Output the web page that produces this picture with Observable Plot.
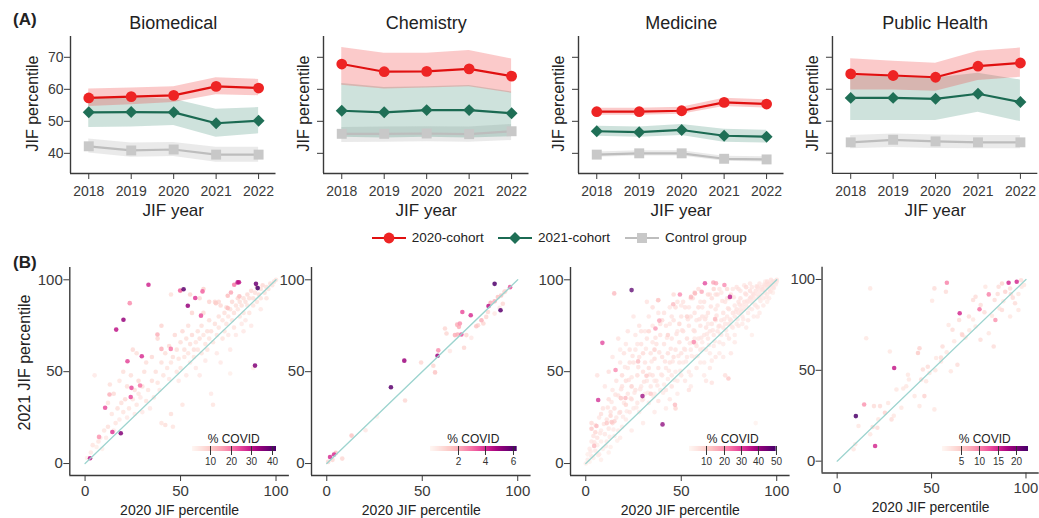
<!DOCTYPE html>
<html><head><meta charset="utf-8">
<script src="https://cdn.jsdelivr.net/npm/d3@7"></script>
<script src="https://cdn.jsdelivr.net/npm/@observablehq/plot@0.6"></script>
<style>
body{margin:0;background:#fff;}
#root{position:relative;width:1039px;height:518px;overflow:hidden;font-family:"Liberation Sans",Arial,sans-serif;color:#222;}
.lab{position:absolute;font-weight:bold;font-size:17px;line-height:20px;}
.leg{position:absolute;display:flex;align-items:center;font-size:13.5px;line-height:16px;color:#222;}
.leg span{margin-left:6px;}
.cov{position:absolute;font-size:12px;line-height:14px;transform:translate(-50%,-50%);white-space:nowrap;color:#222;}
</style></head><body><div id="root"></div>
<script>
// ---------------- DATA ----------------
const years = [2018, 2019, 2020, 2021, 2022];
const fields = ["Biomedical", "Chemistry", "Medicine", "Public Health"];
const cohorts = ["2020-cohort", "2021-cohort", "Control group"];
const yTicksA = [40, 50, 60, 70];

// rows: Biomedical, Chemistry, Medicine, Public Health
const mean2020 = [[57.3,57.7,58.1,60.9,60.4],[67.9,65.5,65.6,66.4,64.1],[53.0,53.0,53.3,55.9,55.4],[64.8,64.3,63.75,67.2,68.2]];
const lo2020   = [[54.6,55.2,55.9,58.3,58.0],[61.3,60.1,60.4,60.8,58.8],[51.9,51.9,52.2,54.6,54.1],[59.8,59.8,59.4,62.7,63.75]];
const hi2020   = [[60.1,60.4,60.8,63.6,63.1],[73.1,71.3,71.3,72.1,69.5],[54.1,54.1,54.4,57.2,56.7],[69.5,68.75,68.1,71.9,72.9]];
const mean2021 = [[52.8,52.9,52.8,49.4,50.2],[53.3,52.8,53.5,53.5,52.5],[46.9,46.6,47.3,45.5,45.2],[57.3,57.3,57.0,58.6,56.0]];
const lo2021   = [[48.1,48.2,48.7,45.0,46.1],[45.0,44.8,45.0,44.8,45.2],[45.3,45.0,45.6,43.5,43.2],[50.2,50.2,50.2,52.8,49.9]];
const hi2021   = [[57.4,57.4,56.9,53.8,54.3],[61.8,60.6,60.8,61.2,59.2],[48.5,48.2,49.0,47.5,47.2],[64.0,64.0,63.5,65.0,62.9]];
const meanCtl  = [[42.2,40.9,41.2,39.6,39.6],[46.1,46.1,46.2,46.0,46.9],[39.6,40.0,40.0,38.3,38.1],[43.4,44.2,43.7,43.4,43.4]];
const loCtl    = [[40.1,38.8,39.0,37.2,37.2],[43.4,43.5,43.6,43.5,44.0],[38.8,39.2,39.2,37.5,37.3],[41.4,41.8,41.5,41.4,41.4]];
const hiCtl    = [[44.5,43.2,43.4,41.9,41.9],[48.1,48.2,48.3,48.2,49.0],[40.4,40.8,40.8,39.1,38.9],[45.5,46.0,45.7,45.5,45.5]];

// panel B: [2020 JIF percentile, 2021 JIF percentile, % COVID]
const ticksB = [0, 50, 100];
const diag = [0, 100];
const covidDomain = [[1, 42], [0, 6.3], [0, 50], [0, 23.2]];
const covidTicks = [[10,20,30,40],[2,4,6],[10,20,30,40,50],[5,10,15,20]];

const bio = [
[33.2,97.3,28],[49.8,94.2,22],[51.6,94.9,40],[61.5,93.7,22],[57.7,90.1,26],[78.1,97.3,20],[79.9,98.6,30],[80.6,98.7,30],[89.5,97.8,38],[90.4,95.5,42],
[23.4,87.3,18],[53.8,85.9,34],[60.7,80.5,24],[20.1,78.3,34],[16.3,72.9,30],[37.9,70.2,14],[29.7,58.4,27],[22.2,55.7,25],[40,62.4,14],[44.9,62.4,20],
[89,53.3,36],[24.3,41.2,24],[28.8,42.5,20],[23.9,36.2,24],[10.5,30.4,24],[12.8,37.6,14],[14.3,17.2,26],[18.7,16.5,36],[7.3,14.5,17],[2.6,2.9,30],
[74.7,91.3,12],[76.4,93.1,15],[80.8,91,12],[68.5,87.3,10],[74.7,84.6,12],
[1,3,3],[3,6,4],[4,10,5],[5,48,4],[6,9,3],[7,12,5],[8,14,4],[9,8,3],[10,18,5],[11,14,4],[12,20,6],[12,33,5],[13,43,6],[14,27,5],[15,18,4],[15,38,7],
[16,22,5],[17,30,6],[18,24,4],[18,45,5],[19,33,6],[20,28,5],[20,50,6],[21,35,7],[22,25,4],[22,42,6],[23,30,5],[24,48,6],[25,35,5],[25,62,7],[26,27,4],
[26,40,6],[27,32,5],[27,60,6],[28,38,5],[28,45,7],[29,36,4],[30,42,6],[30,28,4],[31,50,6],[32,34,5],[32,55,6],[33,40,5],[34,30,4],[35,45,6],[35,58,7],
[36,36,5],[37,50,6],[38,44,5],[38,68,7],[39,40,4],[40,22,5],[40,55,6],[40,75,8],[41,48,5],[42,21,6],[42,60,6],[43,52,5],[44,46,4],[44,64,7],[45,27,6],
[45,55,5],[46,20,5],[46,58,6],[47,70,7],[48,50,5],[48,62,6],[49,57,5],[49,45,4],[50,66,6],[50,52,5],[51,32,5],[51,72,7],[52,58,5],[52,62,6],[53,48,4],
[53,68,6],[54,60,5],[54,75,6],[55,55,4],[55,65,6],[56,70,7],[56,82,8],[57,58,5],[57,62,6],[58,66,5],[58,52,4],[59,72,6],[59,62,5],[60,68,6],[60,48,4],
[61,75,6],[61,60,5],[62,70,5],[62,82,7],[63,65,5],[63,56,4],[64,72,6],[64,62,5],[65,68,5],[65,78,6],[66,38,4],[66,72,6],[67,32,5],[67,66,5],[68,76,6],
[68,88,7],[69,70,5],[69,60,4],[70,80,6],[70,74,5],[71,55,4],[71,86,7],[72,78,5],[72,68,5],[73,82,6],[73,72,5],[74,85,6],[74,76,5],[75,80,5],[75,70,4],
[76,84,6],[76,49,3],[77,78,5],[77,88,7],[78,82,6],[78,74,5],[79,86,6],[79,70,4],[80,84,5],[80,90,7],[81,80,5],[81,88,6],[82,86,6],[82,76,4],[83,90,6],
[83,82,5],[84,88,6],[84,78,4],[85,92,7],[85,86,5],[86,90,6],[86,82,5],[87,94,7],[87,75,4],[88,90,6],[88,86,5],[89,93,6],[90,88,5],[90,96,7],[91,92,6],
[92,95,6],[92,90,5],[93,97,7],[94,93,6],[95,96,6],[96,95,5],[97,98,6],[98,97,5],[99,99,6],[100,100,5],[88,52,3],[92,84,4],[95,90,5],[83,72,4],[76,62,4],
[70,88,7],[65,88,8],[60,90,7],[62,95,9],[55,92,8],[50,94,7],[45,92,6]
];

const chem = [
[87.9,97.8,6.2],[96,96,3.5],[93,93.3,1],[91,83.4,6],[84.7,85.7,4.5],[71,82.5,3.5],[75.4,80.7,4],[70.5,70.2,3.5],[58,58.7,5],[58.4,61.6,2.5],
[40.6,56,5],[33.6,41.5,6],[1.7,3.6,4],[3.8,4.9,4],[4.7,5.8,1.5],[0.7,0.9,1],[8.1,2.7,1],[13,15.2,1.5],[20.3,18.1,0.5],[26.3,25.6,0.3],
[41,34.3,1],[49.4,55,1],[56.7,49.6,1.5],[55.8,53.2,1],[61.9,73.5,1],[62.7,70.8,1],[64.5,61.2,0.5],[67.1,69.9,2],[68.3,75.6,2],[69.2,74.4,2],
[69.7,76.2,2.5],[68.5,70.2,2],[71.9,63,1],[73.1,69.9,1],[75.7,68.4,0.5],[78.3,74.7,1.5],[81,78,2],[82,76.2,1],[83.5,79.8,1],[84.4,82.5,1],
[85.8,87.5,2],[87.9,88.3,2],[89.6,90.6,1.5],[91.3,91.5,1.5],[92.2,87,1],[93.4,93.7,1],[87.9,81.6,0.5],[90.5,84.7,0.5],[79.2,75.3,1],[3,2,1]
];

const med = [
[24,94.4,48],[62.4,98.1,30],[66.8,98.5,18],[68.2,98.1,18],[72.6,97.2,22],[75.5,90.7,36],[49.3,92,22],[55.1,90.7,15],[57.2,92.6,15],[60.7,93.5,18],
[14.9,92.6,15],[37.9,88.9,12],[45.8,86.7,15],[38.5,77.8,18],[36.5,73.5,20],[8.7,65.7,30],[56.6,66.1,22],[15.6,50.9,22],[29.7,36.7,40],[6.5,34.6,33],
[40.2,21.3,42],[46.7,32,15],[20.8,35.7,15],[27.4,55.6,15],[31.8,47.8,12],[4.4,9.6,15],[3,18.9,12],[13.5,22.6,12],[5.6,20.4,15],[74.7,46.3,12],
[18.4,35.6,12],[67.7,78.7,15],
[0,0,3],[1,2,4],[2,1,2],[1,5,3],[3,4,5],[2,8,4],[4,3,3],[3,12,5],[5,7,4],[4,15,6],[6,10,3],[5,21,5],[7,5,4],[6,14,6],[8,12,3],[7,25,5],[8,18,4],[9,8,3],
[9,30,6],[10,16,5],[3,22,8],[5,17,9],[8,27,7],[6,48,6],[10,42,5],
[11,12,4],[11,24,6],[12,19,5],[12,35,7],[13,9,3],[13,28,6],[14,22,8],[14,40,5],[15,15,4],[15,30,7],[16,45,6],[16,25,5],[17,18,4],[17,37,6],[18,55,5],
[18,28,7],[19,20,4],[19,42,6],[20,33,5],[20,60,6],[12,50,7],[14,58,5],[17,68,6],[11,22,12],[15,23,10],[19,48,8],[13,26,9],
[21,24,4],[21,45,7],[22,38,6],[22,52,5],[23,28,5],[23,62,6],[24,35,7],[24,47,5],[25,30,4],[25,55,6],[26,40,6],[26,70,5],[27,33,5],[27,48,7],[28,58,6],
[28,28,4],[29,42,5],[29,65,6],[30,35,5],[30,50,7],[22,72,6],[25,80,5],[28,75,6],[30,60,8],[24,42,10],[21,32,9],
[31,38,4],[31,55,6],[32,45,5],[32,68,6],[33,33,4],[33,52,7],[34,60,6],[34,42,5],[35,48,6],[35,75,5],[36,38,4],[36,57,7],[37,65,6],[37,45,5],[38,52,6],
[38,82,5],[39,40,4],[39,70,6],[40,58,7],[40,48,5],[32,88,6],[35,85,7],[38,89,8],[36,62,10],[33,72,9],[40,78,8],[34,38,12],[38,34,6],
[41,43,4],[41,65,6],[42,52,5],[42,75,6],[43,46,4],[43,60,7],[44,55,6],[44,85,5],[45,48,5],[45,68,6],[46,58,7],[46,78,6],[47,50,4],[47,62,6],[48,72,5],
[48,88,6],[49,55,5],[49,66,7],[50,60,6],[50,80,6],[42,40,5],[45,42,6],[48,45,4],[44,35,5],[47,30,9],[50,48,5],[46,92,8],[43,70,10],[49,76,9],
[51,55,4],[51,72,6],[52,62,5],[52,85,6],[53,58,5],[53,68,7],[54,75,6],[54,50,4],[55,62,5],[55,80,6],[56,66,6],[56,90,7],[57,58,4],[57,72,6],[58,78,5],
[58,64,6],[59,68,5],[59,85,7],[60,62,5],[60,75,6],[52,45,5],[55,48,4],[58,52,5],[60,55,4],[54,40,6],[57,93,9],[53,80,10],[59,95,7],
[61,66,4],[61,80,6],[62,70,5],[62,88,6],[63,62,4],[63,74,6],[64,68,5],[64,82,6],[65,72,5],[65,60,4],[66,76,6],[66,90,7],[67,70,5],[67,64,4],[68,78,6],
[68,84,5],[69,72,5],[69,92,7],[70,75,6],[70,66,4],[62,55,4],[65,52,5],[68,58,5],[70,60,4],[64,92,8],[67,95,9],[63,45,5],[66,44,6],
[71,78,5],[71,70,4],[72,82,6],[72,74,5],[73,76,5],[73,88,6],[74,80,5],[74,70,4],[75,84,6],[75,76,5],[76,78,5],[76,92,7],[77,82,6],[77,74,4],[78,86,5],
[78,80,5],[79,84,6],[79,76,4],[80,88,6],[80,82,5],[72,65,4],[75,68,5],[78,70,4],[80,75,5],[76,60,5],[74,95,8],[79,96,6],[73,48,7],
[81,84,5],[81,90,6],[82,86,5],[82,80,4],[83,88,6],[83,84,5],[84,92,6],[84,86,5],[85,88,5],[85,82,4],[86,90,6],[86,94,7],[87,88,5],[87,84,4],[88,92,6],
[88,90,5],[89,94,6],[89,86,4],[90,92,5],[90,96,6],[82,76,4],[85,78,5],[88,80,4],[90,85,5],[87,70,3],[84,96,8],[89,22,2],
[91,94,5],[91,90,4],[92,96,6],[92,92,5],[93,95,5],[93,90,4],[94,97,6],[94,93,5],[95,96,5],[95,92,4],[96,98,6],[96,95,5],[97,97,5],[97,94,4],[98,99,6],
[98,96,5],[99,99,5],[99,98,4],[100,100,6],[100,99,5],[93,86,4],[96,90,4],[98,93,3],[91,82,4],[95,99,7],[97,100,6],
[2.5,6.5,4],[4.5,11.5,5],[6.5,4.5,3],[7.5,16.5,5],[9.5,21.5,6],[10.5,9.5,4],[11.5,30.5,6],[12.5,14.5,4],[13.5,33.5,5],[14.5,18.5,4],[15.5,37.5,6],
[16.5,12.5,3],[17.5,27.5,5],[18.5,40.5,6],[19.5,25.5,4],[20.5,52.5,5],[21.5,28.5,4],[22.5,45.5,6],[23.5,35.5,5],[24.5,58.5,6],[25.5,38.5,5],[26.5,30.5,4],
[27.5,52.5,6],[28.5,40.5,5],[29.5,34.5,4],[30.5,44.5,6],[31.5,62.5,5],[32.5,38.5,4],[33.5,48.5,6],[34.5,55.5,5],[35.5,36.5,4],[36.5,68.5,6],[37.5,42.5,5],
[38.5,60.5,6],[39.5,48.5,5],[40.5,38.5,4],[41.5,55.5,6],[42.5,68.5,5],[43.5,50.5,5],[44.5,62.5,6],[45.5,55.5,5],[46.5,45.5,4],[47.5,70.5,6],[48.5,58.5,5],
[49.5,50.5,4],[50.5,72.5,6],[51.5,62.5,5],[52.5,55.5,4],[53.5,78.5,6],[54.5,65.5,5],[55.5,58.5,4],[56.5,72.5,6],[57.5,65.5,5],[58.5,58.5,4],[59.5,78.5,6],
[60.5,68.5,5],[61.5,62.5,4],[62.5,78.5,6],[63.5,70.5,5],[64.5,64.5,4],[65.5,85.5,6],[66.5,72.5,5],[67.5,66.5,4],[68.5,80.5,6],[69.5,74.5,5],[70.5,70.5,4],
[71.5,88.5,6],[72.5,78.5,5],[73.5,72.5,4],[74.5,84.5,6],[75.5,78.5,5],[76.5,74.5,4],[77.5,90.5,6],[78.5,82.5,5],[79.5,78.5,4],[80.5,86.5,6],[81.5,82.5,5],
[82.5,78.5,4],[83.5,92.5,6],[84.5,88.5,5],[85.5,84.5,4],[86.5,90.5,6],[87.5,92.5,5],[88.5,86.5,4],[89.5,96.5,6],[90.5,90.5,5],[91.5,88.5,4],[92.5,94.5,6],
[93.5,97.5,5],[94.5,90.5,4],[95.5,97.5,6],[96.5,93.5,5],[97.5,98.5,4],[98.5,95.5,5],[99.5,97.5,4],
[26,62,5],[29,72,6],[33,80,5],[36,45,4],[41,82,6],[44,76,5],[47,85,7],[51,88,6],[54,85,5],[57,82,6],[61,85,5],[64,76,4],[68,92,6],[71,93,5],[74,90,6],
[77,95,5],[80,95,6],[83,97,5],[86,98,5],[91,98,5],[94,99,4],[21,65,5],[18,62,4],[23,55,6],[27,65,5],[31,72,5],[35,66,5],[39,76,6],[45,80,6],[50,86,5],
[55,90,6],[60,88,5],[65,92,6],[70,95,5],[62,48,4],[66,56,4],[72,58,4],[78,66,4],[84,74,4],[90,80,4],[95,88,3],[55,42,4],[48,38,4],[42,30,4],[36,28,4],
[30,22,4],[24,18,4],[18,14,4],[12,6,3],[8,2,3],[57,68,5],[63,80,5],[69,86,5],[75,90,5],[81,94,5],[87,96,5]
];

const pub = [
[9.9,24.8,23],[30.2,51.3,16],[20.1,8.4,15],[64.9,81.4,15],[58.1,98.2,10],[90.8,98.2,15],[95.1,98.7,15],[80.3,91.8,10],[75.4,83.6,11],[83.8,77.7,9],
[14.3,31.2,9],[17.5,95.1,2],[15.4,67.7,2],[51.5,95.1,3],[50.3,88.3,2],[57.6,93.2,3],[43.6,62.2,4],[42.8,59.5,5],[27.9,60.4,2],[64.6,77.7,3],
[66.3,69.5,4],[69.8,79.6,3],[72,88.7,3],[73.3,90.5,3],[78.5,96,2],[85.5,96,3],[87.3,97.8,4],[89,93.2,4],[91.6,95,3],[97.4,99.6,3],
[97.7,96,2],[94.2,86.9,3],[96,83.2,2],[91.6,79.6,2],[87.3,83.2,3],[83.4,88.7,3],[80.3,70.4,2],[82.9,63.1,3],[75.9,66.8,3],[73.3,74.1,2],
[61.1,72.3,3],[59,75,2],[55.8,63.1,3],[63.7,53.1,3],[60.2,49.5,2],[55,54.9,2],[52.4,56.8,2],[48.9,48.5,2],[45.4,50.4,3],[44.5,44.9,3],
[47.1,44,2],[46.2,35.8,4],[43.6,30.3,2],[51.5,28.5,2],[41,35.8,2],[36.6,41.2,2],[31.4,39.4,2],[34,29.4,2],[25.3,26.6,4],[22.7,30.3,3],
[19.5,30.3,3],[21.8,23,2],[18.8,18.8,3],[21.3,18.4,3],[17.5,14.8,2],[11.3,19.3,2],[9.6,9.3,2],[8.7,6.6,2],[28.8,23,3],[37.5,47.6,2],
[82,80,2],[86,84,2],[93,90,3],[96,92,2],[99,97,2],[88,88,2],[85,92,3],[78,82,3],[70,72,2],[68,68,2],[72,78,2],[58,60,2],[52,50,2],[48,52,3],
[38,45,2],[30,25,2],[27,32,2],[35,40,2],[55,57,3],[92,92,3],[76,86,3],[62,66,2],[66,70,2]
];

// ---------------- STYLE / LAYOUT ----------------
const FONT = '"Liberation Sans", Arial, sans-serif';
const lineColor = {"2020-cohort": "#e01010", "2021-cohort": "#1b6a52", "Control group": "#bdbdbd"};
const dotColor  = {"2020-cohort": "#ee2424", "2021-cohort": "#1f6f56", "Control group": "#c8c8c8"};
const bandColor = {"2020-cohort": "#f04040", "2021-cohort": "#1f7a5e", "Control group": "#b8b8b8"};
const bandOp    = {"2020-cohort": 0.28, "2021-cohort": 0.22, "Control group": 0.3};
const symbolOf  = {"2020-cohort": "circle", "2021-cohort": "diamond2", "Control group": "square"};
const radiusOf  = {"2020-cohort": 5.4, "2021-cohort": 5.4, "Control group": 5.6};
const AXIS = "#3a3a3a";
const LBL = {textAnchor: "middle", lineAnchor: "middle", fill: "#222"};

const root = document.getElementById("root");
function place(el, left, top) {
  const w = document.createElement("div");
  w.style.cssText = `position:absolute;left:${left}px;top:${top}px;`;
  w.appendChild(el);
  root.appendChild(w);
  return w;
}

// ---------- Panel A ----------
const axisXA = [69.5, 323.3, 577.7, 831.7];
const A_ML = 50, A_W = 205.5, A_MR = 2;
const xDomA = [2017.57, 2022.41], yDomA = [33.7, 76.5];
const meansA = [mean2020, mean2021, meanCtl], losA = [lo2020, lo2021, loCtl], hisA = [hi2020, hi2021, hiCtl];

fields.forEach((field, fi) => {
  const rows = [];
  cohorts.forEach((c, k) => years.forEach((yr, i) => rows.push({year: yr, cohort: c, mean: meansA[k][fi][i], lo: losA[k][fi][i], hi: hisA[k][fi][i]})));
  const order = ["Control group", "2021-cohort", "2020-cohort"];
  const marks = [];
  for (const c of order) marks.push(Plot.areaY(rows.filter(d => d.cohort === c), {x: "year", y1: "lo", y2: "hi", fill: bandColor[c], fillOpacity: bandOp[c]}));
  for (const c of order) {
    const r = rows.filter(d => d.cohort === c);
    marks.push(Plot.line(r, {x: "year", y: "mean", stroke: lineColor[c], strokeWidth: 2.2}));
    marks.push(Plot.dot(r, {x: "year", y: "mean", symbol: symbolOf[c], r: radiusOf[c], fill: dotColor[c]}));
  }
  marks.push(
    Plot.axisX({ticks: years, tickFormat: d => String(d), tickSize: 6, tickPadding: 7, label: null}),
    Plot.axisY({ticks: yTicksA, tickSize: 6, tickPadding: 1, label: null, tickFormat: fi === 0 ? (d => String(d)) : (() => "")}),
    Plot.ruleX([xDomA[0]], {stroke: AXIS, strokeWidth: 1.4}),
    Plot.ruleY([yDomA[0]], {stroke: AXIS, strokeWidth: 1.4}),
    Plot.text([field], {...LBL, frameAnchor: "top", dy: -13, fontSize: 18}),
    Plot.text(["JIF year"], {...LBL, frameAnchor: "bottom", dy: 37, fontSize: 17}),
    Plot.text(["JIF percentile"], {...LBL, frameAnchor: "left", dx: fi === 0 ? -38 : -20, dy: -1.5, rotate: -90, fontSize: 16})
  );
  const svg = Plot.plot({
    width: A_ML + A_W + A_MR, height: 222,
    marginLeft: A_ML, marginRight: A_MR, marginTop: 36, marginBottom: 49,
    x: {domain: xDomA}, y: {domain: yDomA},
    style: {fontFamily: FONT, fontSize: "14px", color: AXIS, background: "transparent", overflow: "visible"},
    marks
  });
  place(svg, axisXA[fi] - A_ML, 0);
});

// ---------- Legend ----------
const legX = [371.7, 498, 625];
cohorts.forEach((c, k) => {
  const d = document.createElement("div");
  d.className = "leg";
  d.style.left = legX[k] + "px";
  d.style.top = "230px";
  const sym = c === "2020-cohort" ? `<circle cx="17" cy="8" r="5.4" fill="${dotColor[c]}"/>`
    : c === "2021-cohort" ? `<path d="M17 2 L23 8 L17 14 L11 8 Z" fill="${dotColor[c]}"/>`
    : `<rect x="12" y="3" width="10" height="10" fill="${dotColor[c]}"/>`;
  d.innerHTML = `<svg width="34" height="16"><line x1="0" y1="8" x2="34" y2="8" stroke="${lineColor[c]}" stroke-width="2.2"/>${sym}</svg><span>${c}</span>`;
  root.appendChild(d);
});

// ---------- Panel B ----------
const axisXB = [69.3, 311, 570, 822.3];
const B_W = 219.6;
const xDomB = [-8, 107], yDomB = [-6.5, 106.7];
const dataB = [bio, chem, med, pub];
const barB = [[191.7, 84], [430, 86.7], [689.3, 86.7], [941.7, 86]];

dataB.forEach((arr, pi) => {
  const pts = arr.map(([x, y, c]) => ({x, y, c}));
  const ml = pi === 0 ? 69.3 : 40;
  const marks = [
    Plot.dot(pts, {x: "x", y: "y", fill: "c", r: 2.3, fillOpacity: pi === 2 ? 0.75 : 0.85, sort: "c"}),
    Plot.line(diag, {x: d => d, y: d => d, stroke: "#9dd4cf", strokeWidth: 1.3}),
    Plot.axisX({ticks: ticksB, tickSize: 6, tickPadding: 4, label: null}),
    Plot.axisY({ticks: ticksB, tickSize: 6, tickPadding: 1, label: null}),
    Plot.ruleX([xDomB[0]], {stroke: AXIS, strokeWidth: 1.4}),
    Plot.ruleY([yDomB[0]], {stroke: AXIS, strokeWidth: 1.4}),
    Plot.text(["2020 JIF percentile"], {...LBL, frameAnchor: "bottom", dy: 35, fontSize: 14})
  ];
  if (pi === 0) marks.push(Plot.text(["2021 JIF percentile"], {...LBL, frameAnchor: "left", dx: -45.3, dy: -9, rotate: -90, fontSize: 16}));
  const svg = Plot.plot({
    width: ml + B_W, height: 268,
    marginLeft: ml, marginRight: 0, marginTop: 17, marginBottom: 43,
    x: {domain: xDomB}, y: {domain: yDomB},
    color: {type: "linear", scheme: "rdpu", domain: covidDomain[pi]},
    style: {fontFamily: FONT, fontSize: "15px", color: AXIS, background: "transparent", overflow: "visible"},
    marks
  });
  place(svg, axisXB[pi] - ml, 250);

  const [bx, bw] = barB[pi];
  const leg = Plot.legend({
    color: {type: "linear", scheme: "rdpu", domain: covidDomain[pi]},
    width: bw + 20, height: 30, marginLeft: 10, marginRight: 10, marginTop: 4, marginBottom: 21,
    ticks: covidTicks[pi], tickFormat: d => String(d), tickSize: 4, label: null,
    style: {fontFamily: FONT, fontSize: "10px", color: "#333", background: "transparent"}
  });
  place(leg, bx - 10, 442.3);
  const t = document.createElement("div");
  t.className = "cov";
  t.style.left = (bx + bw / 2) + "px";
  t.style.top = "439px";
  t.textContent = "% COVID";
  root.appendChild(t);
});

// ---------- Panel letters ----------
[["(A)", 13, 10], ["(B)", 13, 253]].forEach(([s, l, t]) => {
  const d = document.createElement("div");
  d.className = "lab"; d.style.left = l + "px"; d.style.top = t + "px"; d.textContent = s;
  root.appendChild(d);
});
</script></body></html>
